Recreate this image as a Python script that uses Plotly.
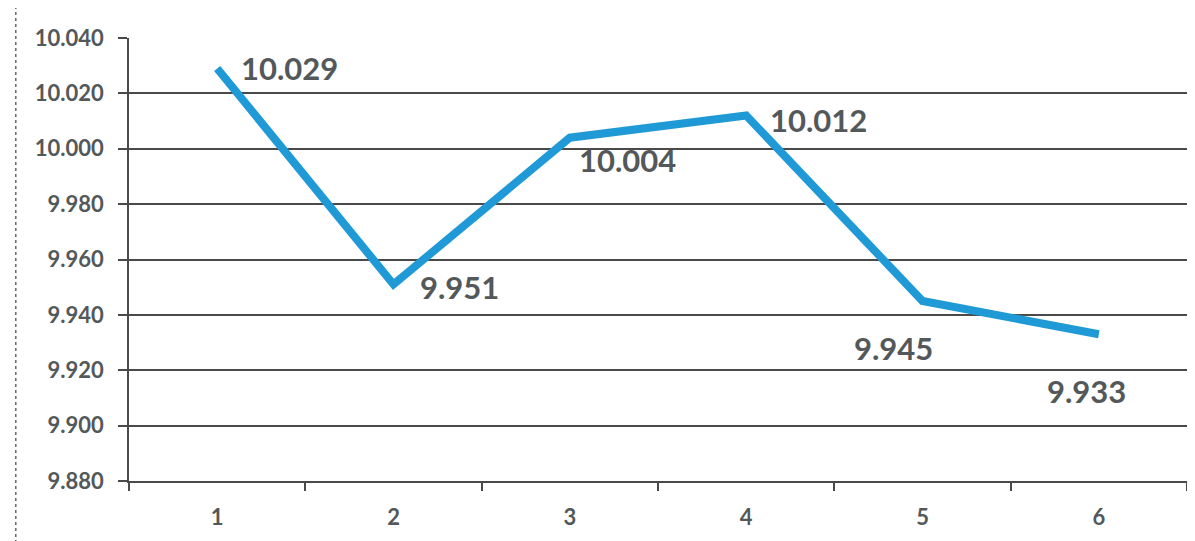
import plotly.graph_objects as go

categories = ["1", "2", "3", "4", "5", "6"]
values = [10.029, 9.951, 10.004, 10.012, 9.945, 9.933]
labels = ["10.029", "9.951", "10.004", "10.012", "9.945", "9.933"]
y_ticks = [9.88, 9.90, 9.92, 9.94, 9.96, 9.98, 10.00, 10.02, 10.04]
y_tick_text = ["9.880", "9.900", "9.920", "9.940", "9.960", "9.980", "10.000", "10.020", "10.040"]

# label offsets (pixels) per point
label_dx = [22, 24, 7, 22, -71, -54]
label_dy = [0, -3, -22, -4, -47, -57]

LINE = "#1f9ad6"
TXT = "#53585a"
GRID = "#4a4a4a"

fig = go.Figure()
fig.add_trace(go.Scatter(x=categories, y=values, mode="lines",
                         line=dict(color=LINE, width=8), hoverinfo="skip"))

for i, (v, t, dx, dy) in enumerate(zip(values, labels, label_dx, label_dy)):
    fig.add_annotation(x=i, y=v, text=t, showarrow=False, xanchor="left", yanchor="middle",
                       xshift=dx, yshift=dy,
                       font=dict(family="Lato", size=31, color=TXT, weight="bold"))

fig.update_layout(
    width=1187, height=533,
    margin=dict(l=121, r=8, t=30, b=60),
    paper_bgcolor="white", plot_bgcolor="white",
    showlegend=False,
    xaxis=dict(type="category", range=[-0.5, 5.5], tickson="boundaries",
               ticks="outside", ticklen=8, tickcolor=GRID, tickwidth=1.5,
               showgrid=False, showline=True, linecolor=GRID, linewidth=1.5,
               tickfont=dict(family="Lato", size=22, color=TXT, weight="bold"),
               ticklabelstandoff=16, fixedrange=True),
    yaxis=dict(range=[9.88, 10.04], tickvals=y_ticks, ticktext=y_tick_text,
               ticks="outside", ticklen=9, tickcolor=GRID, tickwidth=1.5,
               showgrid=True, gridcolor=GRID, gridwidth=1.5,
               showline=True, linecolor=GRID, linewidth=1.5,
               zeroline=False,
               tickfont=dict(family="Lato", size=22, color=TXT, weight="bold"),
               ticklabelstandoff=10, fixedrange=True),
)

fig.add_shape(type="line", xref="paper", yref="paper", x0=-0.107, x1=-0.107, y0=-0.14, y1=1.09,
              line=dict(color="#666", width=1.5, dash="dot"))

fig.write_html("out.html")
